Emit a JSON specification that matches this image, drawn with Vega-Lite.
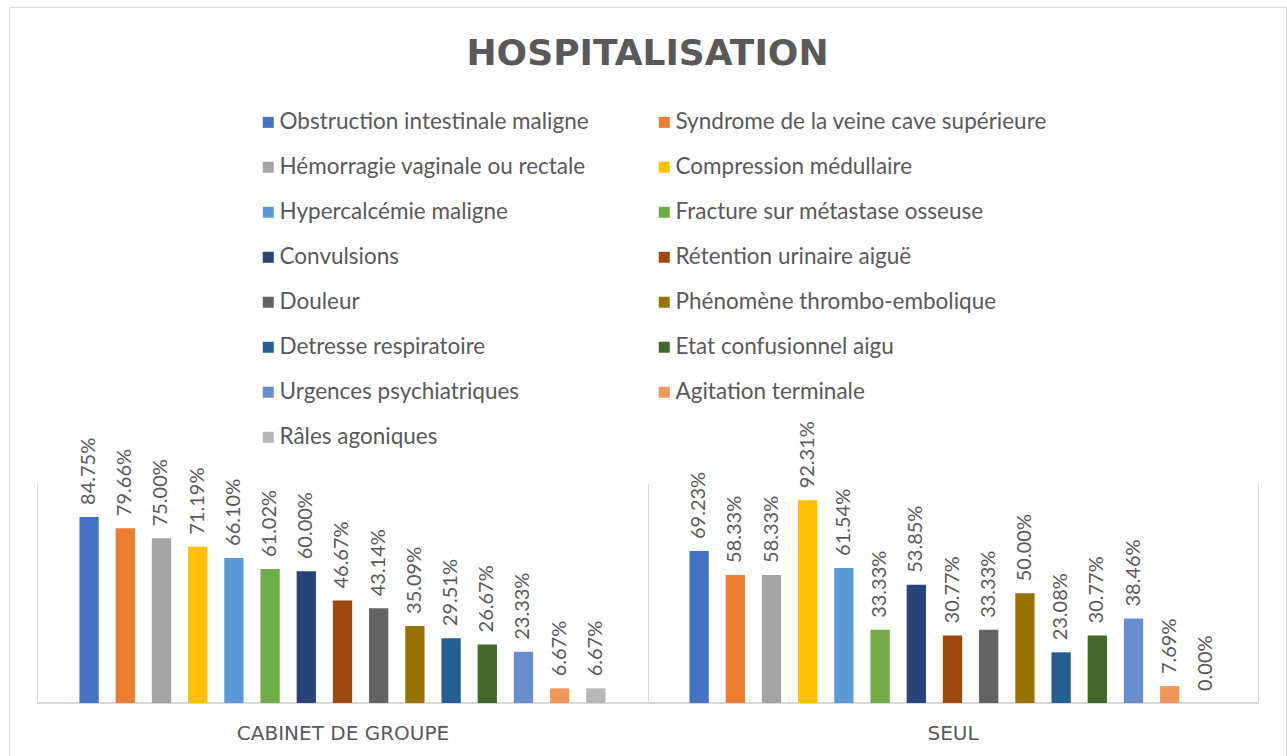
{
  "$schema": "https://vega.github.io/schema/vega-lite/v6.json",
  "autosize": {"type": "none"},
  "padding": {"left": 9, "top": 7, "right": 1, "bottom": 0},
  "width": 1277,
  "height": 749,
  "background": "white",
  "title": {
    "text": "HOSPITALISATION",
    "font": "DejaVu Sans",
    "fontWeight": "bold",
    "fontSize": 36,
    "color": "#595959",
    "anchor": "middle",
    "baseline": "alphabetic",
    "offset": -94
  },
  "config": {
    "view": {"stroke": "#d9d9d9", "strokeWidth": 1}
  },
  "data": {
    "values": [
      {"groupe": "CABINET DE GROUPE", "serie": "Obstruction intestinale maligne", "valeur": 0.8475},
      {"groupe": "CABINET DE GROUPE", "serie": "Syndrome de la veine cave supérieure", "valeur": 0.7966},
      {"groupe": "CABINET DE GROUPE", "serie": "Hémorragie vaginale ou rectale", "valeur": 0.75},
      {"groupe": "CABINET DE GROUPE", "serie": " Compression médullaire", "valeur": 0.7119},
      {"groupe": "CABINET DE GROUPE", "serie": "Hypercalcémie maligne", "valeur": 0.661},
      {"groupe": "CABINET DE GROUPE", "serie": "Fracture sur métastase osseuse", "valeur": 0.6102},
      {"groupe": "CABINET DE GROUPE", "serie": "Convulsions", "valeur": 0.6},
      {"groupe": "CABINET DE GROUPE", "serie": "Rétention urinaire aiguë", "valeur": 0.4667},
      {"groupe": "CABINET DE GROUPE", "serie": "Douleur", "valeur": 0.4314},
      {"groupe": "CABINET DE GROUPE", "serie": "Phénomène thrombo-embolique", "valeur": 0.3509},
      {"groupe": "CABINET DE GROUPE", "serie": "Detresse respiratoire", "valeur": 0.2951},
      {"groupe": "CABINET DE GROUPE", "serie": "Etat confusionnel aigu", "valeur": 0.2667},
      {"groupe": "CABINET DE GROUPE", "serie": "Urgences psychiatriques", "valeur": 0.2333},
      {"groupe": "CABINET DE GROUPE", "serie": "Agitation terminale", "valeur": 0.0667},
      {"groupe": "CABINET DE GROUPE", "serie": "Râles agoniques", "valeur": 0.0667},
      {"groupe": "SEUL", "serie": "Obstruction intestinale maligne", "valeur": 0.6923},
      {"groupe": "SEUL", "serie": "Syndrome de la veine cave supérieure", "valeur": 0.5833},
      {"groupe": "SEUL", "serie": "Hémorragie vaginale ou rectale", "valeur": 0.5833},
      {"groupe": "SEUL", "serie": " Compression médullaire", "valeur": 0.9231},
      {"groupe": "SEUL", "serie": "Hypercalcémie maligne", "valeur": 0.6154},
      {"groupe": "SEUL", "serie": "Fracture sur métastase osseuse", "valeur": 0.3333},
      {"groupe": "SEUL", "serie": "Convulsions", "valeur": 0.5385},
      {"groupe": "SEUL", "serie": "Rétention urinaire aiguë", "valeur": 0.3077},
      {"groupe": "SEUL", "serie": "Douleur", "valeur": 0.3333},
      {"groupe": "SEUL", "serie": "Phénomène thrombo-embolique", "valeur": 0.5},
      {"groupe": "SEUL", "serie": "Detresse respiratoire", "valeur": 0.2308},
      {"groupe": "SEUL", "serie": "Etat confusionnel aigu", "valeur": 0.3077},
      {"groupe": "SEUL", "serie": "Urgences psychiatriques", "valeur": 0.3846},
      {"groupe": "SEUL", "serie": "Agitation terminale", "valeur": 0.0769},
      {"groupe": "SEUL", "serie": "Râles agoniques", "valeur": 0}
    ]
  },
  "layer": [
    {
      "mark": {"type": "rect", "fill": "transparent", "stroke": "#d9d9d9", "strokeWidth": 1.5},
      "encoding": {
        "x": {
          "field": "groupe",
          "type": "nominal",
          "sort": ["CABINET DE GROUPE", "SEUL"],
          "scale": {"paddingInner": 0, "paddingOuter": 0.0467},
          "axis": {
            "orient": "bottom",
            "offset": -53,
            "domain": false,
            "tickBand": "extent",
            "tickSize": -219.5,
            "tickColor": "#d9d9d9",
            "tickWidth": 1,
            "labelPadding": 239.5,
            "labelAngle": 0,
            "labelLimit": 500,
            "labelFont": "DejaVu Sans",
            "labelFontSize": 20,
            "labelColor": "#595959",
            "title": null
          }
        },
        "y": {"datum": 0, "type": "quantitative", "scale": {"domain": [-0.2415, 3.1708], "nice": false, "zero": false}, "axis": null},
        "y2": {"datum": 0}
      }
    },
    {
      "mark": {"type": "bar"},
      "encoding": {
        "x": {"field": "groupe", "type": "nominal", "sort": ["CABINET DE GROUPE", "SEUL"]},
        "xOffset": {
          "field": "serie",
          "type": "nominal",
          "scale": {
            "domain": ["(début)", "Obstruction intestinale maligne", "Syndrome de la veine cave supérieure", "Hémorragie vaginale ou rectale", " Compression médullaire", "Hypercalcémie maligne", "Fracture sur métastase osseuse", "Convulsions", "Rétention urinaire aiguë", "Douleur", "Phénomène thrombo-embolique", "Detresse respiratoire", "Etat confusionnel aigu", "Urgences psychiatriques", "Agitation terminale", "Râles agoniques", "(fin)"],
            "paddingInner": 0.467,
            "paddingOuter": 0.159
          }
        },
        "y": {"field": "valeur", "type": "quantitative"},
        "color": {
          "field": "serie",
          "type": "nominal",
          "scale": {
            "domain": ["Obstruction intestinale maligne", "Syndrome de la veine cave supérieure", "Hémorragie vaginale ou rectale", " Compression médullaire", "Hypercalcémie maligne", "Fracture sur métastase osseuse", "Convulsions", "Rétention urinaire aiguë", "Douleur", "Phénomène thrombo-embolique", "Detresse respiratoire", "Etat confusionnel aigu", "Urgences psychiatriques", "Agitation terminale", "Râles agoniques"],
            "range": ["#4472C4", "#ED7D31", "#A5A5A5", "#FFC000", "#5B9BD5", "#70AD47", "#264478", "#9E480E", "#636363", "#997300", "#255E91", "#43682B", "#698ED0", "#F1975A", "#B7B7B7"]
          },
          "legend": {
            "orient": "none",
            "legendX": 248,
            "legendY": 104,
            "columns": 2,
            "direction": "horizontal",
            "title": null,
            "padding": 0,
            "symbolType": "square",
            "symbolSize": 121,
            "symbolStrokeWidth": 0,
            "symbolOpacity": 1,
            "labelFont": "Lato",
            "labelFontSize": 22.5,
            "labelColor": "#595959",
            "labelOffset": 0,
            "labelLimit": 600,
            "rowPadding": 22,
            "columnPadding": 64
          }
        }
      }
    },
    {
      "mark": {"type": "text", "angle": 270, "align": "left", "baseline": "middle", "dx": 12, "font": "Lato", "fontSize": 20, "color": "#595959"},
      "encoding": {
        "x": {"field": "groupe", "type": "nominal", "sort": ["CABINET DE GROUPE", "SEUL"]},
        "xOffset": {
          "field": "serie",
          "type": "nominal",
          "scale": {
            "domain": ["(début)", "Obstruction intestinale maligne", "Syndrome de la veine cave supérieure", "Hémorragie vaginale ou rectale", " Compression médullaire", "Hypercalcémie maligne", "Fracture sur métastase osseuse", "Convulsions", "Rétention urinaire aiguë", "Douleur", "Phénomène thrombo-embolique", "Detresse respiratoire", "Etat confusionnel aigu", "Urgences psychiatriques", "Agitation terminale", "Râles agoniques", "(fin)"]
          }
        },
        "y": {"field": "valeur", "type": "quantitative"},
        "text": {"field": "valeur", "type": "quantitative", "format": ".2%"}
      }
    }
  ]
}
